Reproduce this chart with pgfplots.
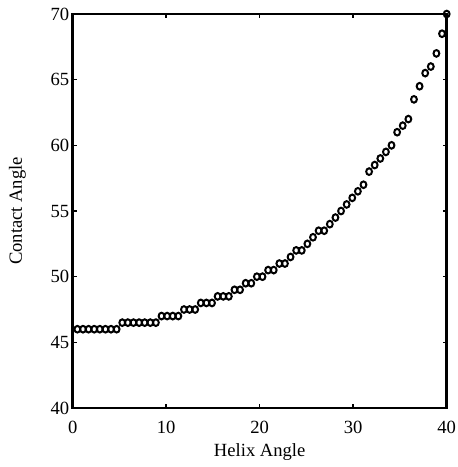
\documentclass[border=0pt]{standalone}
\usepackage{fontspec}
\setmainfont{Liberation Serif}
\usepackage{pgfplots}
\pgfplotsset{compat=1.18}

\begin{document}
\begin{tikzpicture}
\begin{axis}[
  name=ax,
  scale only axis,
  width=187pt, height=197pt,
  xmin=0, xmax=40, ymin=40, ymax=70,
  xtick={0,10,20,30,40},
  ytick={40,45,...,70},
  tick align=inside,
  major tick length=2pt,
  axis line style={line width=1.2pt},
  every tick/.style={black, line width=0.8pt},
  tick label style={font=\fontsize{9.3}{11}\selectfont},
  label style={font=\fontsize{9.3}{11}\selectfont},
  /pgf/number format/assume math mode=true,
  yticklabel style={xshift=1.8pt},
  xticklabel style={yshift=-3pt},
  xlabel={Helix Angle},
  ylabel={Contact Angle},
  xlabel style={yshift=2pt},
  ylabel style={yshift=5.5pt},
  clip=false,
]
\addplot[only marks, mark=o, mark size=1.45pt, line width=1pt,
  every mark/.append style={yscale=1.15}] coordinates {
(0.5,46)(1.1,46)(1.7,46)(2.3,46)(2.9,46)(3.5,46)(4.1,46)(4.7,46)
(5.3,46.5)(5.9,46.5)(6.5,46.5)(7.1,46.5)(7.7,46.5)(8.3,46.5)(8.9,46.5)
(9.5,47)(10.1,47)(10.7,47)(11.3,47)
(11.9,47.5)(12.5,47.5)(13.1,47.5)
(13.7,48)(14.3,48)(14.9,48)
(15.5,48.5)(16.1,48.5)(16.7,48.5)
(17.3,49)(17.9,49)
(18.5,49.5)(19.1,49.5)
(19.7,50)(20.3,50)
(20.9,50.5)(21.5,50.5)
(22.1,51)(22.7,51)
(23.3,51.5)
(23.9,52)(24.5,52)
(25.1,52.5)
(25.7,53)
(26.3,53.5)(26.9,53.5)
(27.5,54)(28.1,54.5)(28.7,55)(29.3,55.5)(29.9,56)(30.5,56.5)
(31.1,57)(31.7,58)(32.3,58.5)(32.9,59)(33.5,59.5)(34.1,60)
(34.7,61)(35.3,61.5)(35.9,62)(36.5,63.5)(37.1,64.5)(37.7,65.5)
(38.3,66)(38.9,67)(39.5,68.5)(40,70)
};
\end{axis}
\pgfresetboundingbox
\path ([shift={(-36.35pt,-29.5pt)}]ax.south west) rectangle ([shift={(5.25pt,7pt)}]ax.north east);
\end{tikzpicture}
\end{document}
